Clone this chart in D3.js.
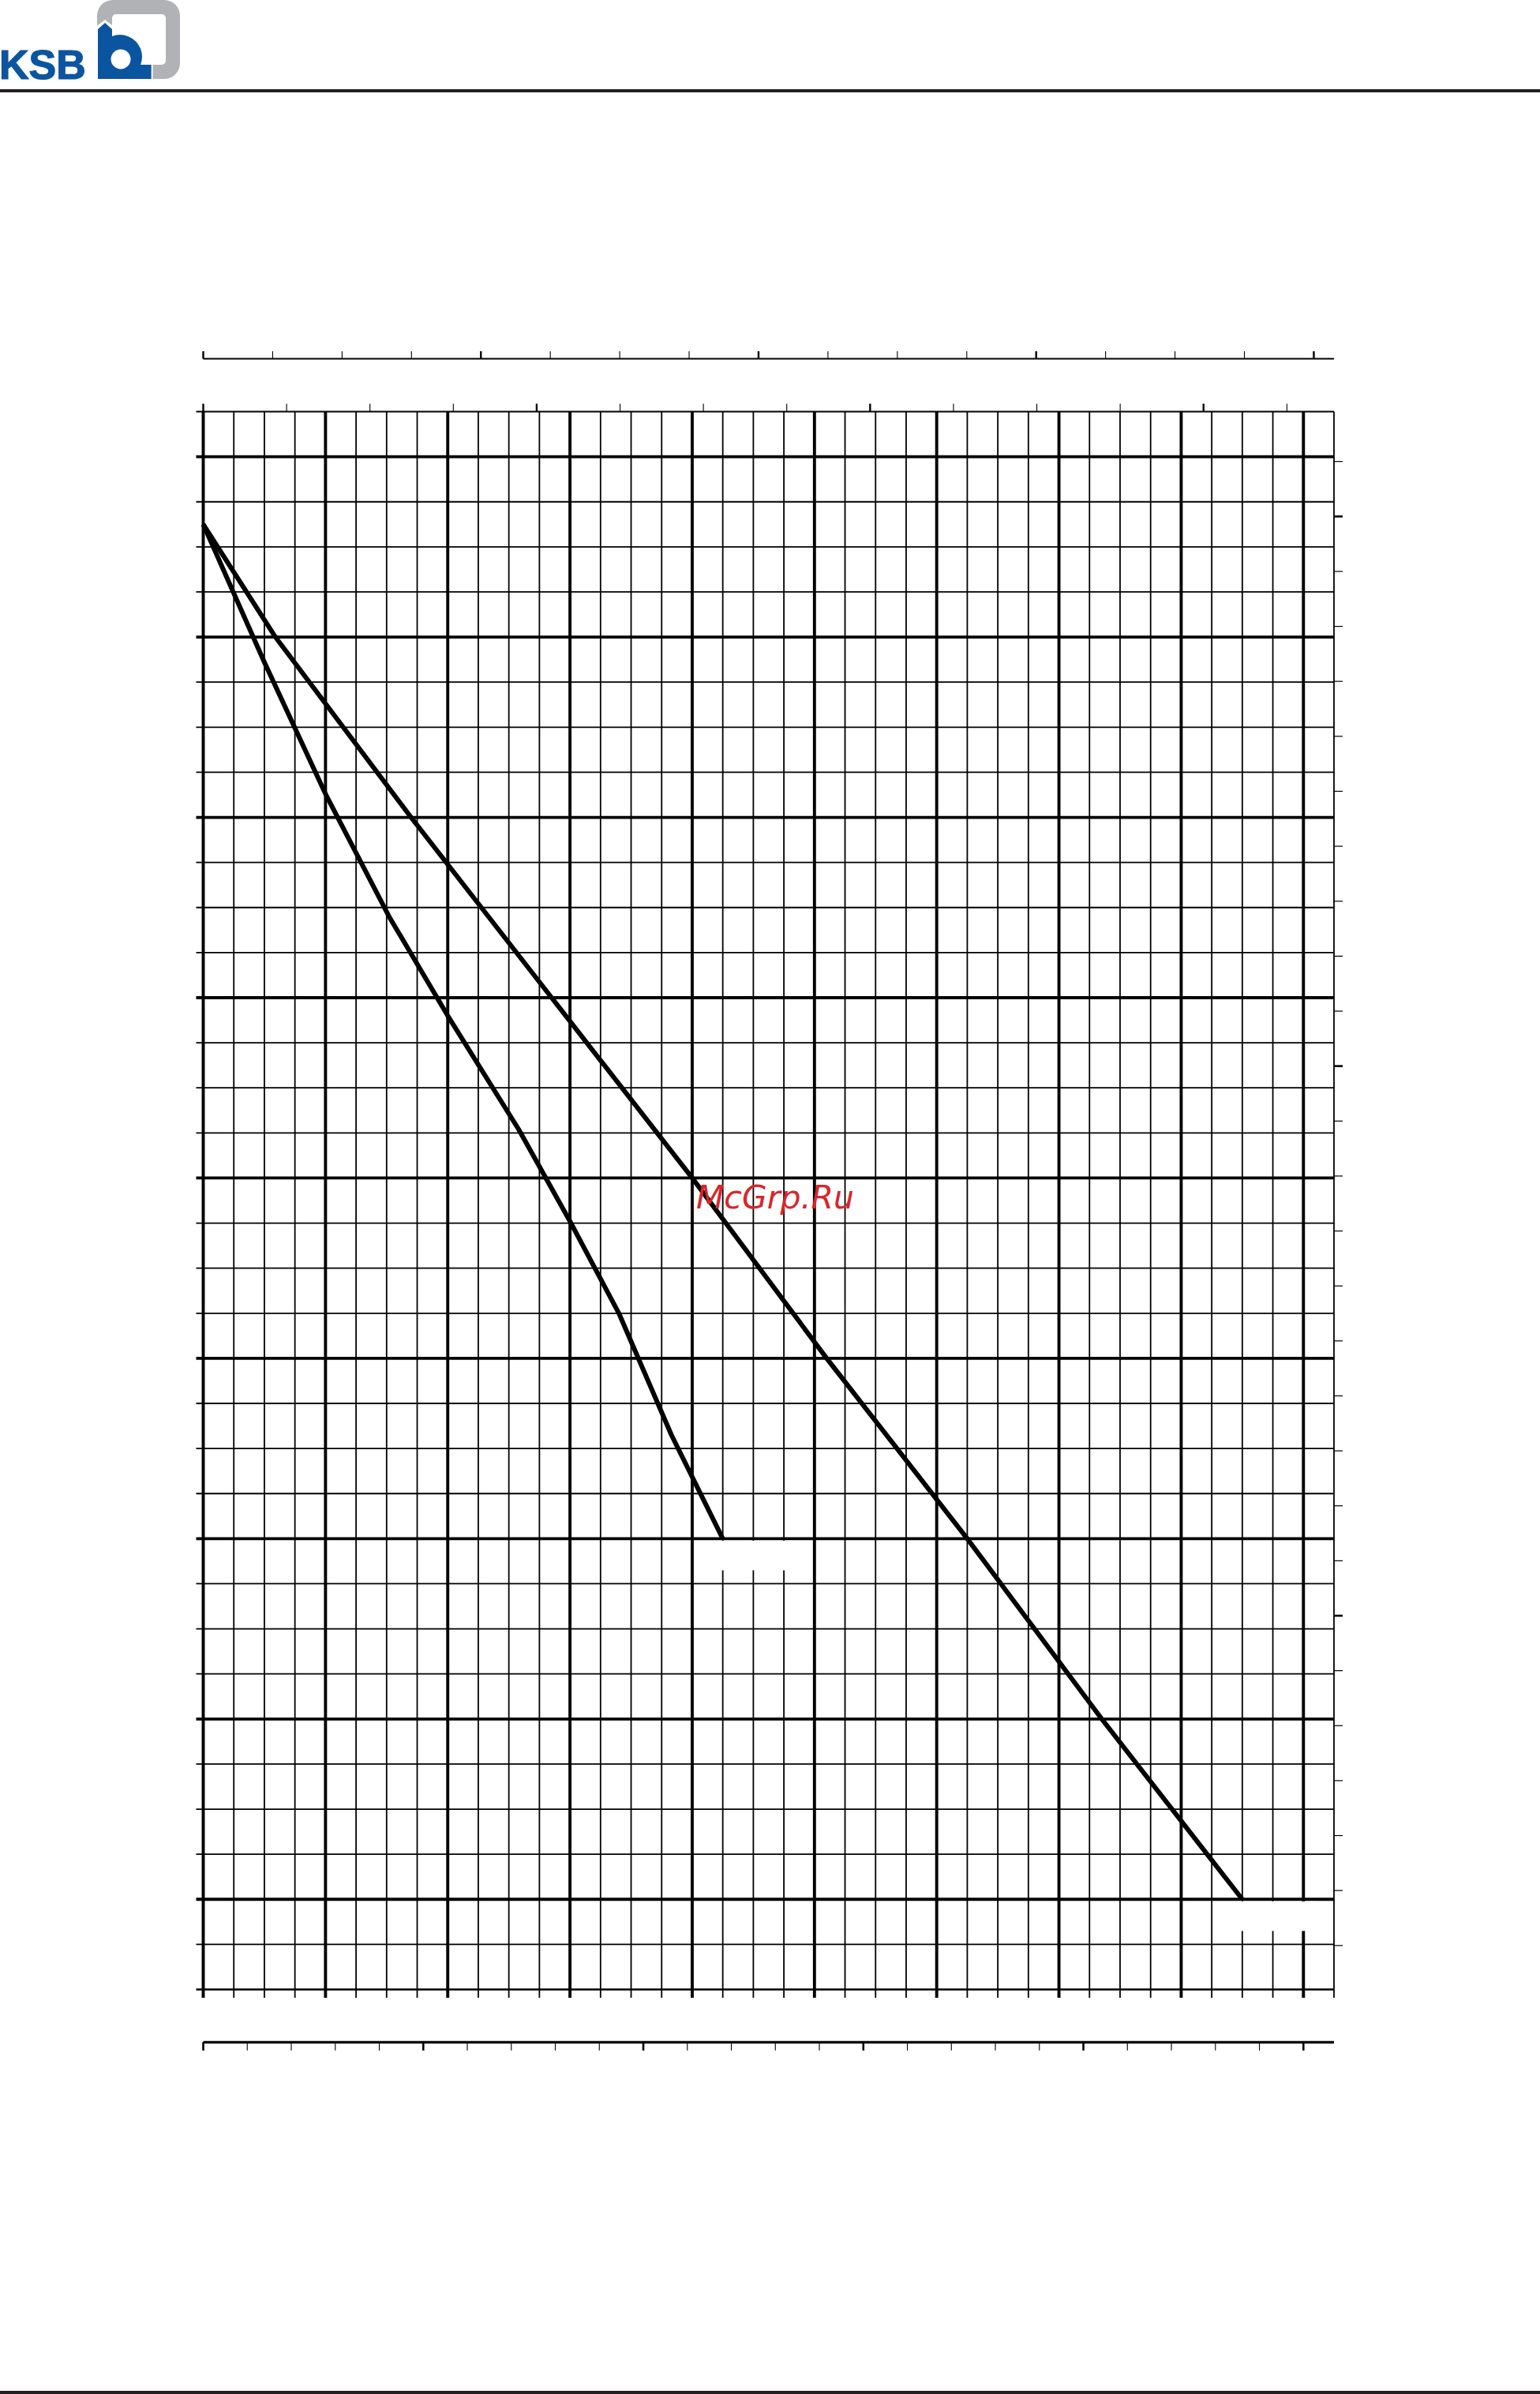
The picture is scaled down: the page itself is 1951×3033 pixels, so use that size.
<!DOCTYPE html>
<html><head><meta charset="utf-8">
<script src="https://cdn.jsdelivr.net/npm/d3@7"></script>
<style>html,body{margin:0;padding:0;background:#fff;} svg{display:block;}</style>
</head><body>
<svg id="c" width="1951" height="3033"></svg>
<script>
// ---------------- data ----------------
// Flow Q in m³/h (grid minor = 2.5 m³/h), head H in m (grid minor = 2.5 m)
const qGridMax = 92.5;   // 37 minor columns
const hGridMax = 87.5;   // 35 minor rows
const qGridStep = 2.5;
const hGridStep = 2.5;

// curve A (steeper, left)
const curveA_Q = [0, 5, 10, 15.2, 20, 25.8, 30, 34, 38.3, 42.5];
const curveA_H = [81.25, 73.6, 66.3, 59.5, 54, 47.7, 42.6, 37.5, 30.75, 25];
// curve B (right)
const curveB_Q = [0, 5.9, 17.0, 28.5, 40.0, 51.0, 62.5, 73.5, 85.0];
const curveB_H = [81.25, 75, 65, 55, 45, 35, 25, 15, 5];

// secondary axes tick values
const bottomTicksLs = d3.range(0, 26, 1);        // l/s
const topTicksUSgpm = d3.range(0, 401, 25);      // US gpm
const topTicksIMgpm = d3.range(0, 326, 25);      // IM gpm
const rightTicksFt  = d3.range(40, 311, 10);     // ft
const rightAxisBaseFt = 32;                      // ft at grid bottom

const watermark = "McGrp.Ru";

// --------------- layout ---------------
const svg = d3.select("#c");
const X0 = 257.5, X1 = 1690, Y0 = 2520.5, Y1 = 521.5;
const x = d3.scaleLinear().domain([0, qGridMax]).range([X0, X1]);
const y = d3.scaleLinear().domain([0, hGridMax]).range([Y0, Y1]);

const blue = "#0b55a0", gray = "#b0b2b5", dark = "#231f20";

// ---- logo ----
const logo = svg.append("g");
logo.append("path")
  .attr("d", "M143,0 H208 A20,20 0 0 1 228,20 V80 A20,20 0 0 1 208,100 H143 A20,20 0 0 1 123,80 V20 A20,20 0 0 1 143,0 Z " +
             "M147,18 H205 A5,5 0 0 1 210,23 V77 A5,5 0 0 1 205,82 H147 A5,5 0 0 1 142,77 V23 A5,5 0 0 1 147,18 Z")
  .attr("fill", gray).attr("fill-rule", "evenodd");
logo.append("path").attr("d", "M120,102 L120,35 L133,25 L146,35 L146,80 L193.5,80 L193.5,102 Z").attr("fill", "#fff");
logo.append("path").attr("d", "M124,100 L124,37 L133,29 L142,37 L142,100 Z").attr("fill", blue);
logo.append("circle").attr("cx", 152).attr("cy", 72).attr("r", 28).attr("fill", blue);
logo.append("rect").attr("x", 140).attr("y", 82).attr("width", 51.7).attr("height", 18).attr("fill", blue);
logo.append("circle").attr("cx", 153).attr("cy", 75).attr("r", 12.5).attr("fill", "#fff");
logo.append("text").attr("x", -1).attr("y", 100)
  .attr("font-family", "Liberation Sans, Arial, sans-serif").attr("font-weight", 900)
  .attr("font-size", 52).attr("fill", blue).attr("stroke", blue).attr("stroke-width", 1.2)
  .text("KSB");

// header / footer rules
svg.append("rect").attr("x", 0).attr("y", 113).attr("width", 1951).attr("height", 4).attr("fill", dark);
svg.append("rect").attr("x", 0).attr("y", 3029).attr("width", 1951).attr("height", 4).attr("fill", dark);

// ---- grid ----
const g = svg.append("g").attr("stroke", "#000");
const colVals = d3.range(0, qGridMax + 0.001, qGridStep);
const rowVals = d3.range(0, hGridMax + 0.001, hGridStep);
const isMajorCol = (v, i) => i % 4 === 0;
const isMajorRow = (v, i) => i % 4 === 2;

// horizontal lines (extend 9px left as ticks)
g.selectAll("line.h").data(rowVals).join("line")
  .attr("x1", X0 - 9).attr("x2", X1)
  .attr("y1", d => y(d)).attr("y2", d => y(d))
  .attr("stroke-width", (d, i) => isMajorRow(d, i) ? 3.8 : (i === 0 ? 2.4 : 1.8));

// vertical lines (extend 10px below as ticks)
g.selectAll("line.v").data(colVals).join("line")
  .attr("x1", d => x(d)).attr("x2", d => x(d))
  .attr("y1", Y1).attr("y2", Y0 + 10.5)
  .attr("stroke-width", (d, i) => isMajorCol(d, i) ? 3.9 : 1.8);

// ---- label gaps below curve ends ----
function gapBox(q, h) {
  svg.append("rect")
    .attr("x", x(q) - 10).attr("y", y(h) + 2.6)
    .attr("width", 105).attr("height", 37.5)
    .attr("fill", "#fff");
}
gapBox(curveA_Q[curveA_Q.length - 1], curveA_H[curveA_H.length - 1]);
gapBox(curveB_Q[curveB_Q.length - 1], curveB_H[curveB_H.length - 1]);

// ---- top axis: US gpm ----
const usgpm = d3.scaleLinear().domain([0, 400]).range([x(0), x(400 * 0.227125)]);
const topY = 454.5;
svg.append("line").attr("x1", X0).attr("x2", X1).attr("y1", topY).attr("y2", topY)
  .attr("stroke", "#000").attr("stroke-width", 1.8);
svg.append("g").selectAll("line").data(topTicksUSgpm).join("line")
  .attr("x1", d => usgpm(d)).attr("x2", d => usgpm(d))
  .attr("y1", topY).attr("y2", topY - 9.5)
  .attr("stroke", "#000").attr("stroke-width", d => d % 100 === 0 ? 2.4 : 1.1);

// ---- second top row: IM gpm ----
const imgpm = d3.scaleLinear().domain([0, 100]).range([x(0), x(100 * 0.272765)]);
svg.append("g").selectAll("line").data(topTicksIMgpm).join("line")
  .attr("x1", d => imgpm(d)).attr("x2", d => imgpm(d))
  .attr("y1", Y1).attr("y2", Y1 - 10)
  .attr("stroke", "#000").attr("stroke-width", d => d % 100 === 0 ? 2.4 : 1.1);

// ---- bottom axis: l/s ----
const ls = d3.scaleLinear().domain([0, 25]).range([x(0), x(25 * 3.6)]);
const botY = 2587.3;
svg.append("line").attr("x1", X0).attr("x2", X1).attr("y1", botY).attr("y2", botY)
  .attr("stroke", "#000").attr("stroke-width", 3.2);
svg.append("g").selectAll("line").data(bottomTicksLs).join("line")
  .attr("x1", d => ls(d)).attr("x2", d => ls(d))
  .attr("y1", botY).attr("y2", botY + 10.5)
  .attr("stroke", "#000").attr("stroke-width", d => d % 5 === 0 ? 2.6 : 1.1);

// ---- right axis: ft ----
const ftY = d => y((d - rightAxisBaseFt) * 0.3048);
svg.append("g").selectAll("line").data(rightTicksFt).join("line")
  .attr("x1", X1).attr("x2", X1 + 11)
  .attr("y1", d => ftY(d)).attr("y2", d => ftY(d))
  .attr("stroke", "#000").attr("stroke-width", d => d % 100 === 0 ? 2.6 : 1.2);

// ---- curves ----
const line = d3.line().x(d => x(d[0])).y(d => y(d[1]));
[[curveA_Q, curveA_H], [curveB_Q, curveB_H]].forEach(([qs, hs]) => {
  svg.append("path").datum(qs.map((q, i) => [q, hs[i]]))
    .attr("d", line).attr("fill", "none").attr("stroke", "#000")
    .attr("stroke-width", 6).attr("stroke-linejoin", "round");
});

// ---- watermark ----
svg.append("text").attr("x", 882).attr("y", 1531)
  .attr("font-family", "DejaVu Sans, sans-serif").attr("font-style", "italic")
  .attr("font-size", 41).attr("fill", "#d7262b").text(watermark);
</script>
</body></html>
